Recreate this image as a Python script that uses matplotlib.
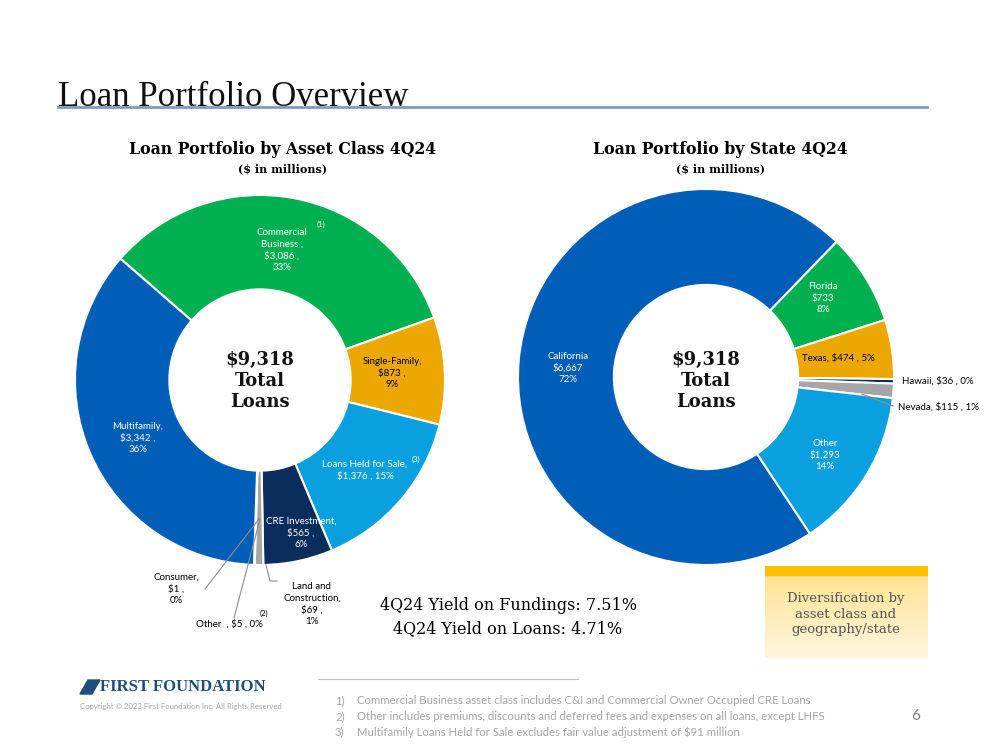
import matplotlib
matplotlib.use("Agg")
import numpy as np
from matplotlib import pyplot as plt
from matplotlib.patches import Rectangle, Polygon
from matplotlib.lines import Line2D
from matplotlib.colors import LinearSegmentedColormap

# ---- data ----
asset_labels = ['Commercial Business', 'Single-Family', 'Loans Held for Sale', 'CRE Investment',
                'Land and Construction', 'Other', 'Consumer', 'Multifamily']
asset_values = [3086, 873, 1376, 565, 69, 5, 1, 3342]
asset_colors = ['#00B050', '#EDA800', '#0AA0DF', '#0B2D5C', '#A6A6A6', '#D9D9D9', '#3A7DC9', '#005EB8']

state_labels = ['California', 'Florida', 'Texas', 'Hawaii', 'Nevada', 'Other']
state_values = [6667, 733, 474, 36, 115, 1293]
state_colors = ['#005EB8', '#00B050', '#EDA800', '#0B2D5C', '#A6A6A6', '#0AA0DF']

total_loans = 9318
yield_fundings = 7.51
yield_loans = 4.71
footnotes = ['Commercial Business asset class includes C&I and Commercial Owner Occupied CRE Loans',
             'Other includes premiums, discounts and deferred fees and expenses on all loans, except LHFS',
             'Multifamily Loans Held for Sale excludes fair value adjustment of $91 million']

W, H = 999, 750
fig = plt.figure(figsize=(W / 100, H / 100), dpi=100)
SERIF = 'DejaVu Serif'
SANS = 'Lato'


def px(x, y):
    return x / W, 1 - y / H


def txt(x, y, s, **kw):
    fig.text(*px(x, y), s, **kw)


def donut(cx, cy, r, values, colors, start):
    ax = fig.add_axes([(cx - r) / W, 1 - (cy + r) / H, 2 * r / W, 2 * r / H])
    ax.pie(values, colors=colors, startangle=start, counterclock=False, radius=1,
           wedgeprops=dict(width=0.51, edgecolor='white', linewidth=1.5))
    ax.set_xlim(-1, 1)
    ax.set_ylim(-1, 1)
    ax.axis('off')
    return ax


# title
txt(58, 106, 'Loan Portfolio Overview', family='Liberation Serif', fontsize=25, va='baseline', color='#111111')
fig.add_artist(Line2D([58 / W, 927 / W], [1 - 107 / H, 1 - 107 / H], color='#7F9DB9', lw=2))

# left donut
donut(260, 380, 185, asset_values, asset_colors, 139)
txt(283, 150, 'Loan Portfolio by Asset Class 4Q24', family=SERIF, weight='bold', fontsize=11.3, ha='center', va='center')
txt(283, 169, '($ in millions)', family=SERIF, weight='bold', fontsize=8, ha='center', va='center')
txt(260, 381, '$%s\nTotal\nLoans' % format(total_loans, ','), family=SERIF, weight='bold', fontsize=13,
    ha='center', va='center', linespacing=1.2, color='#111111')

lab = dict(family=SANS, fontsize=7, ha='center', va='center', linespacing=1.35)
txt(282, 250, 'Commercial\nBusiness ,\n$3,086 ,\n33%', color='white', **lab)
txt(321, 224, '(1)', color='white', family=SANS, fontsize=5.5, ha='center', va='center')
txt(392, 373, 'Single-Family,\n$873 ,\n9%', color='black', **lab)
txt(365, 470, 'Loans Held for Sale,\n$1,376 , 15%', color='white', **lab)
txt(416, 459, '(3)', color='white', family=SANS, fontsize=5.5, ha='center', va='center')
txt(301, 533, 'CRE Investment,\n$565 ,\n6%', color='white', **lab)
txt(138, 438, 'Multifamily,\n$3,342 ,\n36%', color='white', **lab)
txt(176, 589, 'Consumer,\n$1 ,\n0%', color='black', **lab)
txt(229, 624, 'Other  , $5 , 0%', color='black', **lab)
txt(264, 613, '(2)', color='black', family=SANS, fontsize=5.5, ha='center', va='center')
txt(312, 604, 'Land and\nConstruction,\n$69 ,\n1%', color='black', **lab)

for seg in [[(205, 589), (259, 519)], [(234, 618), (260, 519)], [(277, 581), (270, 581), (266, 565)]]:
    xs = [p[0] / W for p in seg]
    ys = [1 - p[1] / H for p in seg]
    fig.add_artist(Line2D(xs, ys, color='#8C8C8C', lw=0.8))

# right donut
donut(706, 377, 188, state_values, state_colors, 46 + 360 * state_values[0] / sum(state_values))
txt(720, 150, 'Loan Portfolio by State 4Q24', family=SERIF, weight='bold', fontsize=11.3, ha='center', va='center')
txt(720, 169, '($ in millions)', family=SERIF, weight='bold', fontsize=8, ha='center', va='center')
txt(706, 381, '$%s\nTotal\nLoans' % format(total_loans, ','), family=SERIF, weight='bold', fontsize=13,
    ha='center', va='center', linespacing=1.2, color='#111111')

txt(568, 368, 'California\n$6,667\n72%', color='white', **lab)
txt(823, 298, 'Florida\n$733\n8%', color='white', **lab)
txt(838, 358, 'Texas, $474 , 5%', color='black', **lab)
txt(938, 381, 'Hawaii, $36 , 0%', color='black', **lab)
txt(938, 407, 'Nevada, $115 , 1%', color='black', **lab)
txt(825, 455, 'Other\n$1,293\n14%', color='white', **lab)
fig.add_artist(Line2D([862 / W, 893 / W], [1 - 394 / H, 1 - 406 / H], color='#8C8C8C', lw=0.8))

# yields
txt(508, 606, '4Q24 Yield on Fundings: %.2f%%' % yield_fundings, family=SERIF, fontsize=11.5, ha='center', va='center')
txt(508, 629, '4Q24 Yield on Loans: %.2f%%' % yield_loans, family=SERIF, fontsize=11.5, ha='center', va='center')

# callout box with gradient
bx = fig.add_axes([765 / W, 1 - 658 / H, 163 / W, 92 / H])
grad = np.linspace(0, 1, 100).reshape(-1, 1)
cm = LinearSegmentedColormap.from_list('g', ['#FFE08A', '#FFF6DE'])
bx.imshow(grad, aspect='auto', cmap=cm, extent=[0, 1, 0, 1], origin='upper')
bx.add_patch(Rectangle((0, 0.9), 1, 0.1, color='#FFC000'))
bx.set_xlim(0, 1)
bx.set_ylim(0, 1)
bx.axis('off')
txt(846, 614, 'Diversification by\nasset class and\ngeography/state', family=SERIF, fontsize=9.5,
    ha='center', va='center', color='#555555', linespacing=1.25)

# footer
fig.add_artist(Line2D([318 / W, 578 / W], [1 - 679 / H, 1 - 679 / H], color='#BFBFBF', lw=0.8))
for i, note in enumerate(footnotes):
    y = 701 + i * 15.5
    txt(335, y, '%d)' % (i + 1), family=SANS, fontsize=8.2, color='#A6A6A6', va='center')
    txt(357, y, note, family=SANS, fontsize=8.2, color='#A6A6A6', va='center')
txt(916, 716, '6', family=SANS, fontsize=11, color='#808080', ha='center', va='center')

fig.add_artist(Polygon([px(80, 694), px(88, 680), px(100, 680), px(92, 694)], closed=True,
                       color='#1F4E79', transform=fig.transFigure))
txt(100, 687, 'FIRST FOUNDATION', family='Liberation Serif', weight='bold', fontsize=12,
    color='#1F4E79', va='center')
txt(80, 706, 'Copyright \u00a9 2023 First Foundation Inc. All Rights Reserved', family=SANS, fontsize=5.6,
    color='#A6A6A6', va='center')

fig.savefig('out.png', dpi=100)
